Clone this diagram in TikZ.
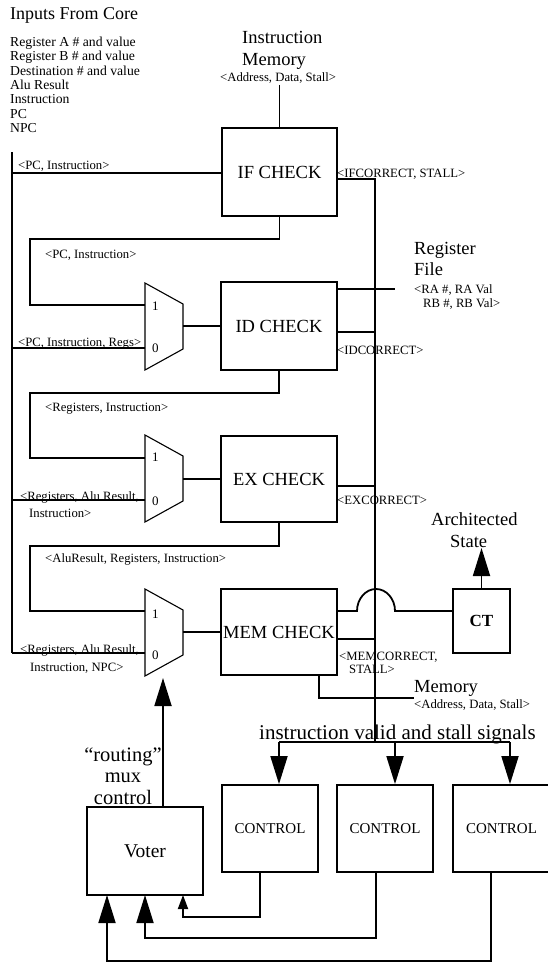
\documentclass[tikz,border=0pt]{standalone}
\usepackage{fontspec}
\setmainfont{Liberation Serif}
\usetikzlibrary{arrows.meta}
\tikzset{
  wire/.style={line width=1.8pt},
  blk/.style={draw, line width=1.8pt, inner sep=0pt, font=\fontsize{18.5}{20}\selectfont},
  ctl/.style={blk, font=\fontsize{15}{17}\selectfont},
  sm/.style={anchor=base west, inner sep=0pt, font=\fontsize{12.7}{14}\selectfont},
  lst/.style={anchor=base west, inner sep=0pt, font=\fontsize{13.7}{14}\selectfont},
  big/.style={anchor=base west, inner sep=0pt, font=\fontsize{18.5}{20}\selectfont},
  dig/.style={anchor=base west, inner sep=0pt, font=\fontsize{13}{14}\selectfont},
  muxs/.style={draw, line width=1.1pt},
  bigarrow/.style={-{Triangle[length=28pt,width=17pt]}},
  smallarrow/.style={-{Triangle[length=14pt,width=10pt]}},
}
\begin{document}
\begin{tikzpicture}[x=1pt,y=-1pt]
\useasboundingbox (0,0) rectangle (548,963);

% ---------- blocks ----------
\node[blk, minimum width=115pt, minimum height=88pt] (ifc) at (279.5,172) {IF CHECK};
\node[blk, minimum width=116pt, minimum height=88pt] (idc) at (279,326) {ID CHECK};
\node[blk, minimum width=116pt, minimum height=86pt] (exc) at (279,479) {EX CHECK};
\node[blk, minimum width=116pt, minimum height=86pt] (memc) at (279,632) {MEM CHECK};
\node[blk, minimum width=57pt, minimum height=64pt, font=\bfseries\fontsize{17}{19}\selectfont] (ct) at (481.5,621) {CT};
\node[blk, minimum width=116pt, minimum height=88pt, font=\fontsize{19.5}{21}\selectfont] (voter) at (145,851) {Voter};
\node[ctl, minimum width=96pt, minimum height=87pt] (c1) at (270,828.5) {CONTROL};
\node[ctl, minimum width=96pt, minimum height=87pt] (c2) at (385,828.5) {CONTROL};
\node[ctl, minimum width=97pt, minimum height=87pt] (c3) at (501.5,828.5) {CONTROL};

% ---------- muxes ----------
\foreach \n/\t in {ma/283, mb/435, mc/589}{
  \coordinate (\n-tl) at (145,\t);
  \coordinate (\n-tr) at (183,\t+21);
  \coordinate (\n-br) at (183,\t+66);
  \coordinate (\n-bl) at (145,\t+87);
  \draw[muxs] (\n-tl) -- (\n-tr) -- (\n-br) -- (\n-bl) -- cycle;
}
\node[dig] (ma1) at (152,310) {1};
\node[dig] (ma0) at (152,352) {0};
\node[dig] (mb1) at (152,461) {1};
\node[dig] (mb0) at (152,505) {0};
\node[dig] (mc1) at (152,618) {1};
\node[dig] (mc0) at (152,659) {0};

% ---------- coordinates ----------
\coordinate (busTop) at (12,152);
\coordinate (busBot) at (12,653);
\coordinate (ifIn) at (12,173);
\coordinate (maIn0) at (12,348);
\coordinate (mbIn0) at (12,500);
\coordinate (mcIn0) at (12,653);
\coordinate (imem) at (279.5,85);
\coordinate (vbTop) at (375,179);
\coordinate (vbBot) at (375,742);
\coordinate (hbL) at (279,742);
\coordinate (hbM) at (395,742);
\coordinate (hbR) at (510,742);
\coordinate (rf) at (395,289);
\coordinate (memOut) at (414,698);

% ---------- left buses ----------
\draw[wire] (busTop) -- (busBot);
\draw[wire] (ifIn) -- (ifIn -| ifc.west);
\draw[wire] (maIn0) -- (maIn0 -| ma-tl);
\draw[wire] (mbIn0) -- (mbIn0 -| mb-tl);
\draw[wire] (mcIn0) -- (mcIn0 -| mc-tl);

% stage-to-mux feedback
\draw[wire] (ifc.south) -- ++(0,22) -| (30,305) -- (145,305);
\draw[wire] (idc.south) -- ++(0,22) -| (30,458) -- (145,458);
\draw[wire] (exc.south) -- ++(0,23) -| (30,611) -- (145,611);

% mux outputs
\draw[wire] (183,326) -- (idc.west);
\draw[wire] (183,479) -- (exc.west);
\draw[wire] (183,632) -- (memc.west);

% instruction memory
\draw[wire] (imem) -- (ifc.north);

% right side
\draw[wire] (vbTop -| ifc.east) -- (vbTop) -- (vbBot);
\draw[wire] (ifc.east |- rf) -- (rf);
\draw[wire] (idc.east |- 0,332) -- (375,332);
\draw[wire] (exc.east |- 0,486) -- (375,486);
\draw[wire] (memc.east |- 0,639) -- (375,639);
\draw[wire] (memc.east |- 0,611) -- (357,611)
   .. controls (357,599) and (365.5,589) .. (376,589)
   .. controls (386.5,589) and (395,599) .. (395,611)
   -- (ct.west |- 0,611);
\draw[wire, bigarrow] (ct.north) -- (481.5,548);
\draw[wire] (319,675) -- (319,698) -- (memOut);

% bottom bus
\draw[wire] (hbL) -- (hbR);
\draw[wire, bigarrow] (hbL) -- (hbL |- c1.north);
\draw[wire, bigarrow] (hbM) -- (hbM |- c2.north);
\draw[wire, bigarrow] (hbR) -- (hbR |- c3.north);

% voter
\draw[wire, bigarrow] (voter.north -| 163,0) -- (163,678);
\draw[wire, smallarrow] (c1.south -| 260,0) -- (260,917) -| (183,895);
\draw[wire, bigarrow] (c2.south -| 376,0) -- (376,938) -| (145,895);
\draw[wire, bigarrow] (c3.south -| 491,0) -- (491,961) -| (107,895);

% ---------- texts ----------
\node[big, font=\fontsize{18}{20}\selectfont] (tin) at (10,19.5) {Inputs From Core};
\foreach \i/\s in {0/Register A \# and value, 1/Register B \# and value, 2/Destination \# and value, 3/Alu Result, 4/Instruction, 5/PC, 6/NPC}{
  \node[lst] (lst\i) at (10,46.7+14.3*\i) {\s};
}
\node[big] (im1) at (242,44) {Instruction};
\node[big] (im2) at (242,66) {Memory};
\node[sm] (im3) at (220,82) {<Address, Data, Stall>};
\node[sm] (lpc1) at (18,169) {<PC, Instruction>};
\node[sm] (lifc) at (337,177) {<IFCORRECT, STALL>};
\node[sm] (lpc2) at (45,258) {<PC, Instruction>};
\node[sm] (lregs) at (18,346) {<PC, Instruction, Regs>};
\node[big] (rf1) at (414,254) {Register};
\node[big] (rf2) at (414,275) {File};
\node[sm] (rf3) at (414,293) {<RA \#, RA Val};
\node[sm] (rf4) at (423,307) {RB \#, RB Val>};
\node[sm] (lidc) at (337,354) {<IDCORRECT>};
\node[sm] (lri) at (45,411) {<Registers, Instruction>};
\node[sm] (lrar1) at (20,500.7) {<Registers, Alu Result,};
\node[sm] (lrar2) at (29,517) {Instruction>};
\node[sm] (lexc) at (337,504) {<EXCORRECT>};
\node[sm] (lari) at (45,562) {<AluResult, Registers, Instruction>};
\node[sm] (lrar3) at (20,653) {<Registers, Alu Result,};
\node[sm] (lrar4) at (30,671) {Instruction, NPC>};
\node[big] (as1) at (431,525) {Architected};
\node[big] (as2) at (450,547) {State};
\node[sm] (lmem1) at (339,660) {<MEMCORRECT,};
\node[sm] (lmem2) at (349,673) {STALL>};
\node[big] (mem1) at (414,692) {Memory};
\node[sm] (mem2) at (414,708) {<Address, Data, Stall>};
\node[big, font=\fontsize{21}{23}\selectfont] (ivs) at (259,739) {instruction valid and stall signals};
\node[anchor=base, inner sep=0pt, font=\fontsize{20.5}{22}\selectfont] (rt1) at (123,761) {“routing”};
\node[anchor=base, inner sep=0pt, font=\fontsize{20.5}{22}\selectfont] (rt2) at (123,782) {mux};
\node[anchor=base, inner sep=0pt, font=\fontsize{20.5}{22}\selectfont] (rt3) at (123,804) {control};
\end{tikzpicture}
\end{document}
